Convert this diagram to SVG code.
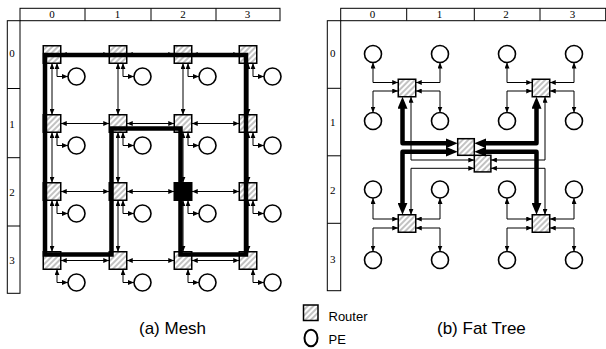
<svg xmlns="http://www.w3.org/2000/svg" width="606" height="349" viewBox="0 0 606 349">
<defs>
<pattern id="hatch" width="4" height="4" patternUnits="userSpaceOnUse" patternTransform="rotate(45)">
<rect width="4" height="4" fill="#fff"/>
<line x1="2" y1="0" x2="2" y2="4" stroke="#777" stroke-width="0.9"/>
</pattern>
<marker id="ah" viewBox="0 0 6 5" refX="6" refY="2.5" markerWidth="6" markerHeight="5" markerUnits="userSpaceOnUse" orient="auto-start-reverse"><path d="M0,0 L6,2.5 L0,5 z" fill="#000"/></marker>
<marker id="big" viewBox="0 0 12 10" refX="6" refY="5" markerWidth="12" markerHeight="10" markerUnits="userSpaceOnUse" orient="auto-start-reverse"><path d="M0,0 L12,5 L0,10 z" fill="#000"/></marker>
<style>
.rt{stroke:#000;stroke-width:1.5;fill:url(#hatch)}
.rb{stroke:#000;stroke-width:1.5;fill:#000}
.pe{fill:#fff;stroke:#000;stroke-width:1.6}
.ln{fill:none;stroke:#000;stroke-width:1;marker-start:url(#ah);marker-end:url(#ah)}
.thk{fill:none;stroke:#000;stroke-width:4.5}
.tb{fill:none;stroke:#000;stroke-width:4.5;stroke-linejoin:round;marker-start:url(#big);marker-end:url(#big)}
.rl{fill:#fff;stroke:#000;stroke-width:1}
.lbl{font-family:"Liberation Serif","Times New Roman",serif;font-size:11px;text-anchor:middle;fill:#000}
.cap{font-family:"Liberation Sans",Arial,sans-serif;font-size:17px;fill:#000}
.leg{font-family:"Liberation Sans",Arial,sans-serif;font-size:13px;fill:#000}
</style>
</defs>
<rect width="606" height="349" fill="#fff"/>

<!-- Mesh rulers -->
<g id="mesh-ruler">
<rect class="rl" x="20" y="8.3" width="260" height="12.4"/>
<path d="M85,8.3V20.7M151,8.3V20.7M216,8.3V20.7" stroke="#000" stroke-width="1"/>
<rect class="rl" x="7.3" y="20.7" width="12.7" height="272.6"/>
<path d="M7.3,88.5H20M7.3,157.7H20M7.3,226H20" stroke="#000" stroke-width="1"/>
<text class="lbl" x="52" y="17.5">0</text>
<text class="lbl" x="117.5" y="17.5">1</text>
<text class="lbl" x="183" y="17.5">2</text>
<text class="lbl" x="247.5" y="17.5">3</text>
<text class="lbl" x="12" y="57.3">0</text>
<text class="lbl" x="12" y="128.3">1</text>
<text class="lbl" x="12" y="196">2</text>
<text class="lbl" x="12" y="263.5">3</text>
</g>

<!-- Fat tree rulers -->
<g id="fat-ruler">
<rect class="rl" x="340.7" y="8.3" width="265" height="12.4"/>
<path d="M406.7,8.3V20.7M474.3,8.3V20.7M540,8.3V20.7" stroke="#000" stroke-width="1"/>
<rect class="rl" x="327.3" y="20.7" width="13.4" height="270"/>
<path d="M327.3,88.3H340.7M327.3,155.8H340.7M327.3,223.3H340.7" stroke="#000" stroke-width="1"/>
<text class="lbl" x="372.5" y="17.5">0</text>
<text class="lbl" x="439.5" y="17.5">1</text>
<text class="lbl" x="506" y="17.5">2</text>
<text class="lbl" x="572.5" y="17.5">3</text>
<text class="lbl" x="332.8" y="57.3">0</text>
<text class="lbl" x="332.8" y="126">1</text>
<text class="lbl" x="332.8" y="194">2</text>
<text class="lbl" x="332.8" y="263">3</text>
</g>

<!-- Mesh routers -->
<g id="m-r00"><rect class="rt" x="43.25" y="45.75" width="17.5" height="17.5"/></g>
<g id="m-r10"><rect class="rt" x="109.25" y="45.75" width="17.5" height="17.5"/></g>
<g id="m-r20"><rect class="rt" x="174.25" y="45.75" width="17.5" height="17.5"/></g>
<g id="m-r30"><rect class="rt" x="239.25" y="45.75" width="17.5" height="17.5"/></g>
<g id="m-r01"><rect class="rt" x="43.25" y="114.75" width="17.5" height="17.5"/></g>
<g id="m-r11"><rect class="rt" x="109.25" y="114.75" width="17.5" height="17.5"/></g>
<g id="m-r21"><rect class="rt" x="174.25" y="114.75" width="17.5" height="17.5"/></g>
<g id="m-r31"><rect class="rt" x="239.25" y="114.75" width="17.5" height="17.5"/></g>
<g id="m-r02"><rect class="rt" x="43.25" y="182.75" width="17.5" height="17.5"/></g>
<g id="m-r12"><rect class="rt" x="109.25" y="182.75" width="17.5" height="17.5"/></g>
<g id="m-r22"><rect class="rb" x="174.25" y="182.75" width="17.5" height="17.5"/></g>
<g id="m-r32"><rect class="rt" x="239.25" y="182.75" width="17.5" height="17.5"/></g>
<g id="m-r03"><rect class="rt" x="43.25" y="251.75" width="17.5" height="17.5"/></g>
<g id="m-r13"><rect class="rt" x="109.25" y="251.75" width="17.5" height="17.5"/></g>
<g id="m-r23"><rect class="rt" x="174.25" y="251.75" width="17.5" height="17.5"/></g>
<g id="m-r33"><rect class="rt" x="239.25" y="251.75" width="17.5" height="17.5"/></g>

<!-- Mesh PEs -->
<g id="m-pe00"><circle class="pe" cx="76.5" cy="76.5" r="8.5"/></g>
<g id="m-pe10"><circle class="pe" cx="142.5" cy="76.5" r="8.5"/></g>
<g id="m-pe20"><circle class="pe" cx="207.5" cy="76.5" r="8.5"/></g>
<g id="m-pe30"><circle class="pe" cx="272.5" cy="76.5" r="8.5"/></g>
<g id="m-pe01"><circle class="pe" cx="76.5" cy="145.5" r="8.5"/></g>
<g id="m-pe11"><circle class="pe" cx="142.5" cy="145.5" r="8.5"/></g>
<g id="m-pe21"><circle class="pe" cx="207.5" cy="145.5" r="8.5"/></g>
<g id="m-pe31"><circle class="pe" cx="272.5" cy="145.5" r="8.5"/></g>
<g id="m-pe02"><circle class="pe" cx="76.5" cy="213.5" r="8.5"/></g>
<g id="m-pe12"><circle class="pe" cx="142.5" cy="213.5" r="8.5"/></g>
<g id="m-pe22"><circle class="pe" cx="207.5" cy="213.5" r="8.5"/></g>
<g id="m-pe32"><circle class="pe" cx="272.5" cy="213.5" r="8.5"/></g>
<g id="m-pe03"><circle class="pe" cx="76.5" cy="282.5" r="8.5"/></g>
<g id="m-pe13"><circle class="pe" cx="142.5" cy="282.5" r="8.5"/></g>
<g id="m-pe23"><circle class="pe" cx="207.5" cy="282.5" r="8.5"/></g>
<g id="m-pe33"><circle class="pe" cx="272.5" cy="282.5" r="8.5"/></g>

<!-- Fat tree routers -->
<g id="f-r-tl"><rect class="rt" x="398.25" y="79.25" width="17.5" height="17.5"/></g>
<g id="f-r-tr"><rect class="rt" x="532.25" y="79.25" width="17.5" height="17.5"/></g>
<g id="f-r-bl"><rect class="rt" x="398.25" y="214.75" width="17.5" height="17.5"/></g>
<g id="f-r-br"><rect class="rt" x="532.25" y="214.75" width="17.5" height="17.5"/></g>
<g id="f-r-cu"><rect class="rt" x="457.7" y="138.7" width="16.6" height="16.6"/></g>
<g id="f-r-cl"><rect class="rt" x="474.3" y="155.3" width="16.6" height="16.6"/></g>

<!-- Fat tree PEs -->
<g id="f-pe00"><circle class="pe" cx="373" cy="54" r="8.5"/></g>
<g id="f-pe10"><circle class="pe" cx="440" cy="54" r="8.5"/></g>
<g id="f-pe20"><circle class="pe" cx="507" cy="54" r="8.5"/></g>
<g id="f-pe30"><circle class="pe" cx="574" cy="54" r="8.5"/></g>
<g id="f-pe01"><circle class="pe" cx="373" cy="121" r="8.5"/></g>
<g id="f-pe11"><circle class="pe" cx="440" cy="121" r="8.5"/></g>
<g id="f-pe21"><circle class="pe" cx="507" cy="121" r="8.5"/></g>
<g id="f-pe31"><circle class="pe" cx="574" cy="121" r="8.5"/></g>
<g id="f-pe02"><circle class="pe" cx="373" cy="189.5" r="8.5"/></g>
<g id="f-pe12"><circle class="pe" cx="440" cy="189.5" r="8.5"/></g>
<g id="f-pe22"><circle class="pe" cx="507" cy="189.5" r="8.5"/></g>
<g id="f-pe32"><circle class="pe" cx="574" cy="189.5" r="8.5"/></g>
<g id="f-pe03"><circle class="pe" cx="373" cy="260" r="8.5"/></g>
<g id="f-pe13"><circle class="pe" cx="440" cy="260" r="8.5"/></g>
<g id="f-pe23"><circle class="pe" cx="507" cy="260" r="8.5"/></g>
<g id="f-pe33"><circle class="pe" cx="574" cy="260" r="8.5"/></g>

<g id="connectors">
<!-- mesh horizontal links -->
<path class="ln" d="M60.75,54.5H109.25"/><path class="ln" d="M126.75,54.5H174.25"/><path class="ln" d="M191.75,54.5H239.25"/>
<path class="ln" d="M60.75,123.5H109.25"/><path class="ln" d="M126.75,123.5H174.25"/><path class="ln" d="M191.75,123.5H239.25"/>
<path class="ln" d="M60.75,191.5H109.25"/><path class="ln" d="M126.75,191.5H174.25"/><path class="ln" d="M191.75,191.5H239.25"/>
<path class="ln" d="M60.75,260.5H109.25"/><path class="ln" d="M126.75,260.5H174.25"/><path class="ln" d="M191.75,260.5H239.25"/>
<!-- mesh vertical links -->
<path class="ln" d="M52,63.25V114.75"/><path class="ln" d="M52,132.25V182.75"/><path class="ln" d="M52,200.25V251.75"/>
<path class="ln" d="M118,63.25V114.75"/><path class="ln" d="M118,132.25V182.75"/><path class="ln" d="M118,200.25V251.75"/>
<path class="ln" d="M183,63.25V114.75"/><path class="ln" d="M183,132.25V182.75"/><path class="ln" d="M183,200.25V251.75"/>
<path class="ln" d="M248,63.25V114.75"/><path class="ln" d="M248,132.25V182.75"/><path class="ln" d="M248,200.25V251.75"/>
<!-- mesh PE links -->
<path class="ln" d="M57,63.25V76.5H68"/><path class="ln" d="M123,63.25V76.5H134"/><path class="ln" d="M188,63.25V76.5H199"/><path class="ln" d="M253,63.25V76.5H264"/>
<path class="ln" d="M57,132.25V145.5H68"/><path class="ln" d="M123,132.25V145.5H134"/><path class="ln" d="M188,132.25V145.5H199"/><path class="ln" d="M253,132.25V145.5H264"/>
<path class="ln" d="M57,200.25V213.5H68"/><path class="ln" d="M123,200.25V213.5H134"/><path class="ln" d="M188,200.25V213.5H199"/><path class="ln" d="M253,200.25V213.5H264"/>
<path class="ln" d="M57,269.25V282.5H68"/><path class="ln" d="M123,269.25V282.5H134"/><path class="ln" d="M188,269.25V282.5H199"/><path class="ln" d="M253,269.25V282.5H264"/>
<!-- mesh route -->
<path class="thk" d="M45,55H246V254.5H180.5V128.5H111.5V254.5H45Z"/>

<!-- fat tree PE links -->
<path class="ln" d="M373,62.5V82.5H398.25"/><path class="ln" d="M398.25,91H373V112.5"/>
<path class="ln" d="M440,62.5V82.5H415.75"/><path class="ln" d="M415.75,91H440V112.5"/>
<path class="ln" d="M507,62.5V82.5H532.25"/><path class="ln" d="M532.25,91H507V112.5"/>
<path class="ln" d="M574,62.5V82.5H549.75"/><path class="ln" d="M549.75,91H574V112.5"/>
<path class="ln" d="M373,198V219H398.25"/><path class="ln" d="M398.25,228H373V251.5"/>
<path class="ln" d="M440,198V219H415.75"/><path class="ln" d="M415.75,228H440V251.5"/>
<path class="ln" d="M507,198V219H532.25"/><path class="ln" d="M532.25,228H507V251.5"/>
<path class="ln" d="M574,198V219H549.75"/><path class="ln" d="M549.75,228H574V251.5"/>
<!-- fat tree thin up links -->
<path class="ln" d="M411,96.75V160H474.3"/>
<path class="ln" d="M474.3,168.3H411V214.75"/>
<path class="ln" d="M545,96.75V160H490.9"/>
<path class="ln" d="M490.9,168.3H545V214.75"/>
<!-- fat tree thick links -->
<path class="tb" d="M402.5,102.75V143.3H451.7"/>
<path class="tb" d="M451.7,151.7H402.5V208.75"/>
<path class="tb" d="M536.5,102.75V143.3H480.3"/>
<path class="tb" d="M480.3,151.7H536.5V208.75"/>
</g>

<!-- Legend -->
<g id="legend-router"><rect class="rt" x="303.5" y="305" width="14.5" height="15.5"/><text class="leg" x="328.5" y="321">Router</text></g>
<g id="legend-pe"><ellipse class="pe" cx="311" cy="338" rx="6.5" ry="8.3" style="stroke-width:2"/><text class="leg" x="328.5" y="344">PE</text></g>

<g id="captions">
<text class="cap" x="139" y="334">(a) Mesh</text>
<text class="cap" x="437" y="334">(b) Fat Tree</text>
</g>
</svg>
